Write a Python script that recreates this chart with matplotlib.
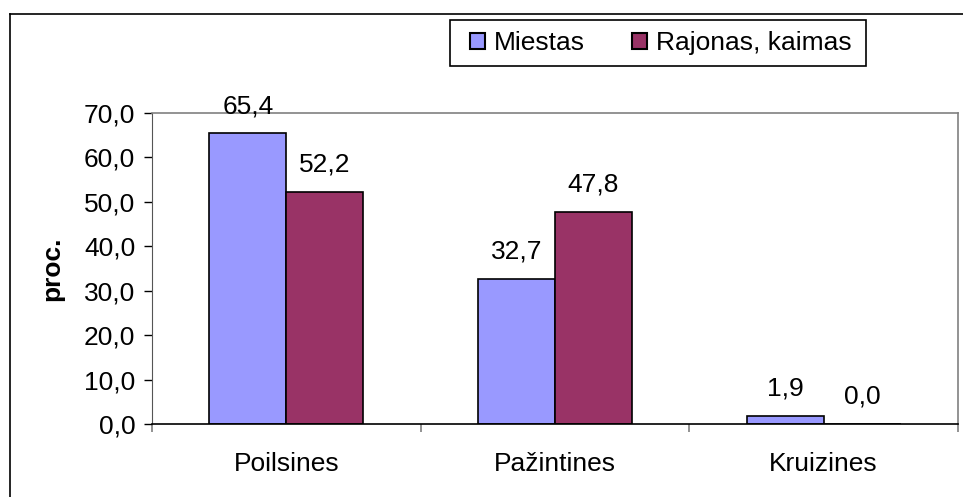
import matplotlib
matplotlib.use("Agg")
import matplotlib.pyplot as plt
from matplotlib.lines import Line2D
from matplotlib.patches import Rectangle
import numpy as np

categories = ["Poilsines", "Pažintines", "Kruizines"]
miestas = [65.4, 32.7, 1.9]
rajonas = [52.2, 47.8, 0.0]
series_names = ["Miestas", "Rajonas, kaimas"]
yticks = [0, 10, 20, 30, 40, 50, 60, 70]

plt.rcParams['font.family'] = ['Liberation Sans', 'DejaVu Sans']
fs = 19

W, H = 963, 497
fig = plt.figure(figsize=(W / 100, H / 100), dpi=100)
ax = fig.add_axes([152 / W, 1 - 424 / H, 806 / W, 311 / H])

# outer chart frame (only left and top visible)
fig.add_artist(Line2D([10 / W, 10 / W], [0, 1 - 14 / H], transform=fig.transFigure,
                      color='black', lw=1.2))
fig.add_artist(Line2D([10 / W, 1], [1 - 14 / H, 1 - 14 / H], transform=fig.transFigure,
                      color='black', lw=1.2))
# legend box, drawn beneath the legend entries
fig.add_artist(Rectangle((450 / W, 1 - 66 / H), 416 / W, 46 / H, transform=fig.transFigure,
                         facecolor='white', edgecolor='black', lw=1.2, zorder=-1))

x = np.arange(len(categories))
w = 0.287
b1 = ax.bar(x - w / 2, miestas, w, color='#9999FF', edgecolor='black', lw=1.2,
            label=series_names[0])
b2 = ax.bar(x + w / 2, rajonas, w, color='#993366', edgecolor='black', lw=1.2,
            label=series_names[1])

for bars, vals in [(b1, miestas), (b2, rajonas)]:
    for r, v in zip(bars, vals):
        ax.annotate(f"{v:.1f}".replace('.', ','), (r.get_x() + r.get_width() / 2, v),
                    xytext=(0, 11), textcoords='offset points', ha='center', va='bottom',
                    fontsize=fs)

ax.set_xlim(-0.5, len(categories) - 0.5)
ax.set_ylim(0, 70)
ax.set_yticks(yticks)
ax.set_yticklabels([f"{t:.1f}".replace('.', ',') for t in yticks], fontsize=fs)
ax.set_xticks(x)
ax.set_xticklabels(categories, fontsize=fs)
ax.tick_params(axis='x', length=0, pad=20)
ax.set_xticks(np.arange(-0.5, len(categories)), minor=True)
ax.tick_params(axis='x', which='minor', length=6, color='#808080', width=1.2)
ax.tick_params(axis='y', length=6, width=1, pad=6, direction='out')

ax.set_ylabel("proc.", fontsize=fs, fontweight='bold', labelpad=14)

for s in ['top', 'right']:
    ax.spines[s].set_color('#808080')
    ax.spines[s].set_linewidth(1.2)
ax.spines['left'].set_color('#555555')
ax.spines['bottom'].set_color('black')
ax.spines['bottom'].set_linewidth(1.2)

leg = ax.legend(loc='center', bbox_to_anchor=(661 / W, 1 - 43 / H),
                bbox_transform=fig.transFigure, ncol=2, fontsize=fs, frameon=False,
                handlelength=0.55, handleheight=0.55,
                handletextpad=0.35, columnspacing=1.8, borderpad=0.3)
for h in leg.legend_handles:
    h.set_linewidth(1.5)

fig.savefig("out.png", dpi=100)
